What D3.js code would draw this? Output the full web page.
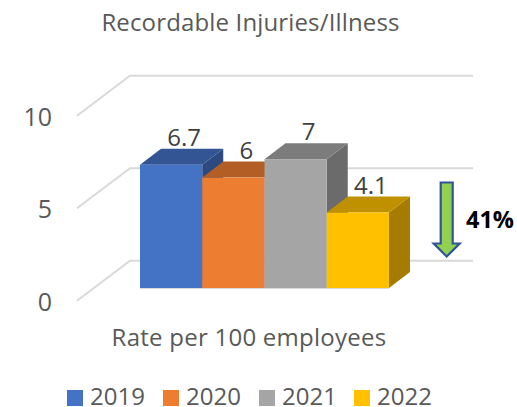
<!DOCTYPE html>
<html><head><meta charset="utf-8">
<script src="https://cdn.jsdelivr.net/npm/d3@7/dist/d3.min.js"></script>
<style>
html,body{margin:0;padding:0;background:#fff}
svg{display:block}
text{font-family:"Open Sans",sans-serif}
</style></head><body>
<svg id="c" width="517" height="407"></svg>
<script>
const years = ["2019","2020","2021","2022"];
const values = [6.7,6,7,4.1];
const frontColors = ["#4472C4","#ED7D31","#A5A5A5","#FFC000"];
const topColors = ["#335593","#B25E24","#7C7C7C","#BF9000"];
const sideColors = ["#2C4A80","#9A5120","#6B6B6B","#A67C00"];
const gridTicks = [0,5,10];
const chartTitle = "Recordable Injuries/Illness";
const axisTitle = "Rate per 100 employees";
const changeLabel = "41%";

const svg = d3.select("#c");
const DX = 21, DY = 16;
const wallDX = 53, wallDY = 40;
const x = d3.scaleBand().domain(years).range([140,389]).padding(0);
const yBar = d3.scaleLinear().domain([0,10]).range([288,104]);
const yGrid = d3.scaleLinear().domain([0,10]).range([300.7,115.7]);
const gridLeft = 77, gridRight = 473;

const grid = svg.append("g");
gridTicks.forEach(t=>{
  grid.append("path")
    .attr("d",`M${gridLeft},${yGrid(t)}L${gridLeft+wallDX},${yGrid(t)-wallDY}L${gridRight},${yGrid(t)-wallDY}`)
    .attr("fill","none").attr("stroke","#d9d9d9").attr("stroke-width",2);
});

const axis = d3.axisLeft(yGrid).tickValues(gridTicks).tickSize(0).tickPadding(0);
const ag = svg.append("g").attr("transform","translate(52,1.3)").call(axis);
ag.select(".domain").remove();
ag.selectAll("text").attr("font-size",25).attr("fill","#595959").attr("font-family",'"Open Sans",sans-serif');

svg.append("line").attr("x1",140).attr("x2",389).attr("y1",yBar(0)+.5).attr("y2",yBar(0)+.5).attr("stroke","#d9d9d9");

const bars = svg.selectAll("g.bar").data(years).join("g").attr("class","bar");
bars.each(function(yr,i){
  const g = d3.select(this);
  const x0 = x(yr), x1 = x0+x.bandwidth(), y0 = yBar(0), y1 = yBar(values[i]);
  g.append("path").attr("d",`M${x1},${y1}L${x1+DX},${y1-DY}L${x1+DX},${y0-DY}L${x1},${y0}Z`).attr("fill",sideColors[i]);
  g.append("path").attr("d",`M${x0},${y1}L${x0+DX},${y1-DY}L${x1+DX},${y1-DY}L${x1},${y1}Z`).attr("fill",topColors[i]);
  g.append("rect").attr("x",x0).attr("y",y1).attr("width",x1-x0).attr("height",y0-y1).attr("fill",frontColors[i]);
});
svg.selectAll("text.lab").data(years).join("text").attr("class","lab")
  .attr("x",d=>x(d)+x.bandwidth()/2+13).attr("y",(d,i)=>yBar(values[i])-19)
  .attr("text-anchor","middle").attr("font-size",24).attr("fill","#404040").text((d,i)=>values[i]);

const cx=446.7;
svg.append("path").attr("d",`M${cx-6},182.5H${cx+6}V243.5H${cx+13}L${cx},256.5L${cx-13},243.5H${cx-6}Z`)
  .attr("fill","#92D050").attr("stroke","#2F5597").attr("stroke-width",2.2);
svg.append("text").attr("x",466).attr("y",228).attr("font-size",23.5).attr("font-weight",700).attr("fill","#000").text(changeLabel);

svg.append("text").attr("x",250.5).attr("y",30.5).attr("text-anchor","middle").attr("font-size",24).attr("letter-spacing",0.15).attr("fill","#595959").text(chartTitle);
svg.append("text").attr("x",249).attr("y",345.5).attr("text-anchor","middle").attr("font-size",24).attr("letter-spacing",0.25).attr("fill","#595959").text(axisTitle);

const lx = d3.scaleOrdinal().domain(years).range([67,163,259,354]);
const lg = svg.selectAll("g.leg").data(years).join("g").attr("class","leg").attr("transform",d=>`translate(${lx(d)},0)`);
lg.append("rect").attr("y",390).attr("width",16).attr("height",16).attr("fill",(d,i)=>frontColors[i]);
lg.append("text").attr("x",23).attr("y",405).attr("font-size",24).attr("fill","#595959").text(d=>d);
</script>
</body></html>
